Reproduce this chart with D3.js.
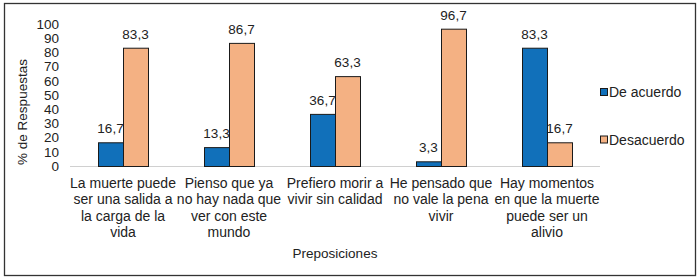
<!DOCTYPE html>
<html>
<head>
<meta charset="utf-8">
<script src="https://cdn.jsdelivr.net/npm/d3@7"></script>
<style>
  body { margin: 0; background: #fff; }
  text { font-family: "Liberation Sans", Arial, sans-serif; fill: #222; }
</style>
</head>
<body>
<svg id="chart" width="700" height="280"></svg>
<script>
// data
var categories = [
    ["La muerte puede", "ser una salida a", "la carga de la", "vida"],
    ["Pienso que ya", "no hay nada que", "ver con este", "mundo"],
    ["Prefiero morir a", "vivir sin calidad"],
    ["He pensado que", "no vale la pena", "vivir"],
    ["Hay momentos", "en que la muerte", "puede ser un", "alivio"]
];
var deAcuerdo = [16.7, 13.3, 36.7, 3.3, 83.3];
var desacuerdo = [83.3, 86.7, 63.3, 96.7, 16.7];
var seriesNames = ["De acuerdo", "Desacuerdo"];
var yTicks = [0, 10, 20, 30, 40, 50, 60, 70, 80, 90, 100];

var colors = ["#1170ba", "#f4b183"];

var svg = d3.select("#chart");

// outer frame
svg.append("rect")
    .attr("x", 4.5).attr("y", 3.5)
    .attr("width", 691).attr("height", 272)
    .attr("fill", "none")
    .attr("stroke", "#333")
    .attr("stroke-width", 1.3);

var margin = {left: 70, right: 100, top: 24, bottom: 114};
var width = 700 - margin.left - margin.right,
    height = 280 - margin.top - margin.bottom;

var g = svg.append("g")
    .attr("transform", "translate(" + margin.left + "," + margin.top + ")");

var x0 = d3.scaleBand()
    .domain(d3.range(categories.length))
    .range([0, width]);

var x1 = d3.scaleBand()
    .domain([0, 1])
    .range([x0.bandwidth() / 2 - 25, x0.bandwidth() / 2 + 25]);

var y = d3.scaleLinear()
    .domain([0, 100])
    .range([height, 0]);

// y tick labels, no line
var yAxis = g.append("g")
    .call(d3.axisLeft(y).tickValues(yTicks).tickSize(0).tickPadding(11));
yAxis.select(".domain").remove();
yAxis.selectAll("text")
    .attr("font-size", 13.5)
    .style("font-family", "Liberation Sans, Arial, sans-serif")
    .attr("fill", "#222");

// baseline
g.append("line")
    .attr("x1", 0).attr("x2", width)
    .attr("y1", y(0) + 0.5).attr("y2", y(0) + 0.5)
    .attr("stroke", "#d0d0d0")
    .attr("stroke-width", 1);

var rows = categories.map(function (c, i) {
    return [deAcuerdo[i], desacuerdo[i]];
});

var groups = g.selectAll(".grp")
    .data(rows)
    .enter().append("g")
    .attr("class", "grp")
    .attr("transform", function (d, i) { return "translate(" + x0(i) + ",0)"; });

groups.selectAll("rect")
    .data(function (d) { return d; })
    .enter().append("rect")
    .attr("x", function (d, j) { return x1(j) + 0.5; })
    .attr("y", function (d) { return y(d) + 0.5; })
    .attr("width", x1.bandwidth())
    .attr("height", function (d) { return height - y(d); })
    .attr("fill", function (d, j) { return colors[j]; })
    .attr("stroke", "#1a1a1a")
    .attr("stroke-width", 1);

groups.selectAll(".val")
    .data(function (d) { return d; })
    .enter().append("text")
    .attr("class", "val")
    .attr("x", function (d, j) { return x1(j) + x1.bandwidth() / 2; })
    .attr("y", function (d) { return y(d) - 9; })
    .attr("text-anchor", "middle")
    .attr("font-size", 13.5)
    .text(function (d) { return d.toFixed(1).replace(".", ","); });

// category labels (wrapped like the original)
var cats = g.selectAll(".cat")
    .data(categories)
    .enter().append("text")
    .attr("class", "cat")
    .attr("text-anchor", "middle")
    .attr("font-size", 14)
    .attr("transform", function (d, i) {
        return "translate(" + (x0(i) + x0.bandwidth() / 2) + "," + (height + 22) + ")";
    });
cats.selectAll("tspan")
    .data(function (d) { return d; })
    .enter().append("tspan")
    .attr("x", 0)
    .attr("dy", function (d, k) { return k === 0 ? 0 : 16.3; })
    .text(function (d) { return d; });

// axis titles
svg.append("text")
    .attr("x", margin.left + width / 2)
    .attr("y", 258)
    .attr("text-anchor", "middle")
    .attr("font-size", 13.5)
    .text("Preposiciones");

svg.append("text")
    .attr("transform", "translate(27,112) rotate(-90)")
    .attr("text-anchor", "middle")
    .attr("font-size", 13.5)
    .text("% de Respuestas");

// legend
var legend = svg.selectAll(".leg")
    .data(seriesNames)
    .enter().append("g")
    .attr("class", "leg")
    .attr("transform", function (d, i) { return "translate(600," + (88 + i * 47.5) + ")"; });

legend.append("rect")
    .attr("x", 0.5).attr("y", 0.5)
    .attr("width", 7).attr("height", 7)
    .attr("fill", function (d, i) { return colors[i]; })
    .attr("stroke", "#1a1a1a")
    .attr("stroke-width", 1);

legend.append("text")
    .attr("x", 9)
    .attr("y", 9)
    .attr("font-size", 14)
    .text(function (d) { return d; });
</script>
</body>
</html>
